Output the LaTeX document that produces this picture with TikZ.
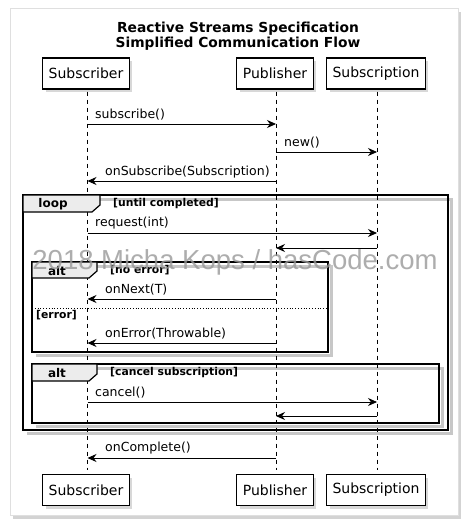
\documentclass[tikz,border=0pt]{standalone}
\usepackage{fontspec}
\setmainfont{DejaVu Sans}
\newfontfamily\wmfont{Liberation Sans}
\usetikzlibrary{arrows.meta,shadows,calc}
\begin{document}
\begin{tikzpicture}[x=1pt,y=-1pt,
  card/.style={fill=white,draw=gray!25,line width=0.5pt,
    drop shadow={shadow xshift=3pt,shadow yshift=-4pt,opacity=0.35}},
  part/.style={draw,line width=1.2pt,fill=white,minimum height=31pt,inner xsep=6pt,
    font=\fontsize{14}{16}\selectfont,
    drop shadow={shadow xshift=3pt,shadow yshift=-3pt,opacity=0.3}},
  life/.style={line width=0.6pt,dash pattern=on 4pt off 4pt},
  msg/.style={line width=0.8pt,-{Stealth[length=9pt,width=8pt,inset=3pt]}},
  lbl/.style={anchor=west,inner sep=0pt,font=\fontsize{12.5}{14}\selectfont},
  frm/.style={line width=1.8pt},
  frmshadow/.style={line width=3pt,draw=black,opacity=0.22},
  tab/.style={line width=1.2pt,fill=gray!15},
  tabtxt/.style={font=\bfseries\fontsize{12}{14}\selectfont,inner sep=0pt},
  cond/.style={anchor=west,inner sep=0pt,font=\bfseries\fontsize{10.8}{12}\selectfont},
  ]
\useasboundingbox (0,0) rectangle (474,530);
% card
\path[card] (10,8) rectangle (458,515);
% title
\node[align=center,font=\bfseries\fontsize{13.8}{15.5}\selectfont] (title) at (238,36)
  {Reactive Streams Specification\\Simplified Communication Flow};
% participants
\node[part] (subT) at (86,73.5) {Subscriber};
\node[part] (pubT) at (275,73.5) {Publisher};
\node[part] (scrT) at (376,73.5) {Subscription};
\node[part] (subB) at (86,490) {Subscriber};
\node[part] (pubB) at (275,490) {Publisher};
\node[part] (scrB) at (376,490) {Subscription};
% frame shadows
\draw[frmshadow] (27,199) -- (451.5,199) -- (451.5,433.5) -- (27,433.5);
\draw[frmshadow] (36,266) -- (331.5,266) -- (331.5,355.5) -- (36,355.5);
\draw[frmshadow] (36,368) -- (442.5,368) -- (442.5,426.5) -- (36,426.5);
% lifelines
\draw[life] ($(subT.south)+(1.5,2)$) -- ($(subB.north)+(1.5,-4)$);
\draw[life] ($(pubT.south)+(1,2)$) -- ($(pubB.north)+(1,-4)$);
\draw[life] ($(scrT.south)+(1,2)$) -- ($(scrB.north)+(1,-4)$);
% lifeline points
\foreach \n/\y in {1/124,2/152,3/181,4/233,5/248,6/299,7/343,8/402,9/416,10/458}{
  \coordinate (s\n) at (87.5,\y);
  \coordinate (p\n) at (276,\y);
  \coordinate (c\n) at (377,\y);
}
% messages
\draw[msg] (s1) -- (p1);
\node[lbl] (l1) at (95,115) {subscribe()};
\draw[msg] (p2) -- (c2);
\node[lbl] (l2) at (284,143) {new()};
\draw[msg] (p3) -- (s3);
\node[lbl] (l3) at (105,172) {onSubscribe(Subscription)};
% loop frame
\draw[frm] (23,195) rectangle (448,430);
\draw[tab] (23,195) -- (100,195) -- (100,205) -- (92,212) -- (23,212) -- cycle;
\node[tabtxt] (loopt) at (53,204) {loop};
\node[cond] (loopc) at (113,204) {[until completed]};
\draw[msg] (s4) -- (c4);
\node[lbl] (l4) at (95,223) {request(int)};
\draw[msg] (c5) -- (p5);
% alt frame 1
\draw[frm] (32,262) rectangle (328,352);
\draw[tab] (32,262) -- (97,262) -- (97,271) -- (89,278) -- (32,278) -- cycle;
\node[tabtxt] (alt1t) at (57,271) {alt};
\node[cond] (alt1c) at (110,270) {[no error]};
\draw[msg] (p6) -- (s6);
\node[lbl] (l6) at (105,290) {onNext(T)};
\draw[line width=0.8pt,dotted] (32,308) -- (328,308);
\node[cond] (alt1e) at (36,315.5) {[error]};
\draw[msg] (p7) -- (s7);
\node[lbl] (l7) at (105,334) {onError(Throwable)};
% alt frame 2
\draw[frm] (32,364) rectangle (439,423);
\draw[tab] (32,364) -- (97,364) -- (97,374) -- (89,381) -- (32,381) -- cycle;
\node[tabtxt] (alt2t) at (57,373) {alt};
\node[cond] (alt2c) at (110,373) {[cancel subscription]};
\draw[msg] (s8) -- (c8);
\node[lbl] (l8) at (95,393) {cancel()};
\draw[msg] (c9) -- (p9);
% onComplete
\draw[msg] (p10) -- (s10);
\node[lbl] (l10) at (105,448) {onComplete()};
% watermark
\node[text=black!40,opacity=0.8,font=\wmfont\fontsize{27.5}{29}\selectfont,inner sep=0pt] (wm) at (235,262) {2018 Micha Kops / hasCode.com};
\end{tikzpicture}
\end{document}
